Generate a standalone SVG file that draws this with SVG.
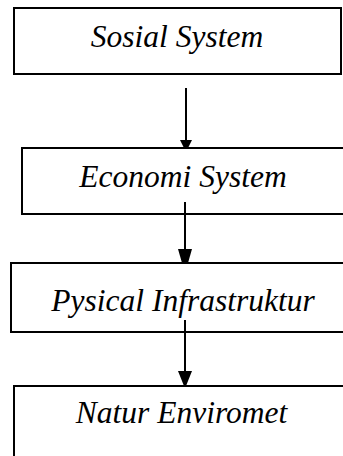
<svg xmlns="http://www.w3.org/2000/svg" width="343" height="456" viewBox="0 0 343 456">
<style>
.box{fill:#fff;stroke:#000;stroke-width:2}
.lbl{font-family:"Liberation Serif","Times New Roman",serif;font-style:italic;font-size:31.5px;fill:#000;text-anchor:middle}
.conn{stroke:#000;stroke-width:2;fill:none}
.head{fill:#000}
</style>
<rect width="343" height="456" fill="#fff"/>
<g id="node-sosial">
<rect class="box" x="14" y="8" width="327" height="66"/>
<text class="lbl" x="177" y="47">Sosial System</text>
</g>
<g id="node-economi">
<rect class="box" x="22" y="148" width="330" height="66"/>
<text class="lbl" x="183" y="187">Economi System</text>
</g>
<g id="node-pysical">
<rect class="box" x="11" y="263" width="340" height="69"/>
<text class="lbl" x="183" y="311">Pysical Infrastruktur</text>
</g>
<g id="node-natur">
<rect class="box" x="14" y="386" width="340" height="80"/>
<text class="lbl" x="181.5" y="423">Natur Enviromet</text>
</g>
<g id="connectors">
<path class="conn" d="M186,88 L186,140"/>
<path class="head" d="M180,140 L192,140 L188,148 L184,148 Z"/>
<path class="conn" d="M185,202 L185,249"/>
<path class="head" d="M178,249 L192,249 L188,263 L182,263 Z"/>
<path class="conn" d="M185,320 L185,371"/>
<path class="head" d="M178,371 L192,371 L186,386 L184,386 Z"/>
</g>
</svg>
